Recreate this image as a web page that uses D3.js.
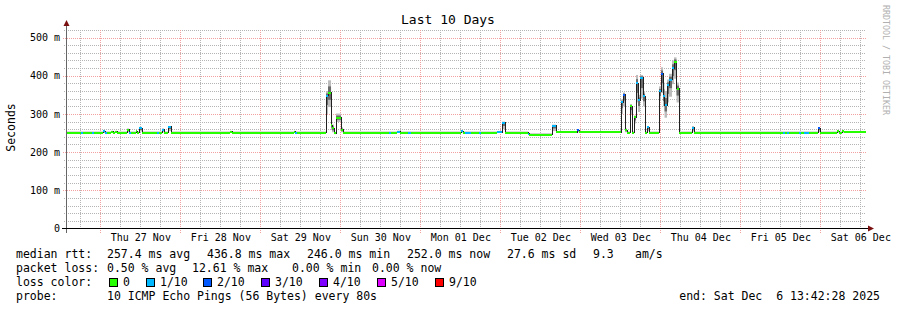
<!DOCTYPE html>
<html>
<head>
<meta charset="utf-8">
<title>Last 10 Days</title>
<style>
    body { margin: 0; background: #fff; }
    svg { display: block; font-family: "DejaVu Sans Mono", monospace; }
</style>
</head>
<body>
<div id="chart"></div>
<script src="https://cdn.jsdelivr.net/npm/d3@7/dist/d3.min.js"></script>
<script>
    // step starts (UTC), each value holds until the next one
    var stepTimes = [
        "2025-11-26T13:42","2025-11-26T18:13","2025-11-26T18:49","2025-11-26T21:31","2025-11-26T22:07",
        "2025-11-27T00:49","2025-11-27T01:25","2025-11-27T02:01","2025-11-27T03:13","2025-11-27T03:49",
        "2025-11-27T04:25","2025-11-27T05:01","2025-11-27T08:01","2025-11-27T08:37","2025-11-27T09:13",
        "2025-11-27T10:43","2025-11-27T11:01","2025-11-27T11:37","2025-11-27T12:31","2025-11-27T17:01",
        "2025-11-27T17:37","2025-11-27T18:31","2025-11-27T19:07","2025-11-27T20:19","2025-11-27T21:13",
        "2025-11-28T14:55","2025-11-28T15:31","2025-11-29T10:07","2025-11-29T10:25","2025-11-29T11:01",
        "2025-11-29T19:43","2025-11-29T20:19","2025-11-29T21:13","2025-11-29T21:31","2025-11-29T22:07",
        "2025-11-29T22:43","2025-11-30T00:13","2025-11-30T00:49","2025-11-30T14:37","2025-11-30T15:13",
        "2025-11-30T17:01","2025-11-30T17:55","2025-11-30T20:19","2025-11-30T21:13","2025-12-01T12:13",
        "2025-12-01T12:49","2025-12-01T13:25","2025-12-01T15:13","2025-12-01T17:37","2025-12-01T18:13",
        "2025-12-01T23:01","2025-12-02T00:31","2025-12-02T01:25","2025-12-02T08:19","2025-12-02T08:37",
        "2025-12-02T15:31","2025-12-02T16:43","2025-12-02T23:01","2025-12-02T23:37","2025-12-03T12:13",
        "2025-12-03T12:49","2025-12-03T13:25","2025-12-03T14:01","2025-12-03T14:55","2025-12-03T15:31",
        "2025-12-03T16:07","2025-12-03T16:43","2025-12-03T17:19","2025-12-03T17:55","2025-12-03T18:49",
        "2025-12-03T19:25","2025-12-03T20:01","2025-12-03T20:37","2025-12-03T23:37","2025-12-04T00:13",
        "2025-12-04T00:49","2025-12-04T01:16","2025-12-04T02:01","2025-12-04T02:37","2025-12-04T03:31",
        "2025-12-04T04:07","2025-12-04T04:52","2025-12-04T05:37","2025-12-04T09:31","2025-12-04T10:07",
        "2025-12-05T12:49","2025-12-05T13:25","2025-12-05T14:01","2025-12-05T14:37","2025-12-05T17:37",
        "2025-12-05T18:13","2025-12-05T19:07","2025-12-05T20:37","2025-12-05T23:19","2025-12-05T23:55",
        "2025-12-06T05:01","2025-12-06T05:37","2025-12-06T06:31","2025-12-06T07:07"
    ];

    // median rtt in ms
    var medianMs = [
        251,251,251,251,251, 254,251,251,253,251, 253,251,258,251,251, 254,251,262,251,251,
        251,259,251,266,251, 253,251,253,251,251, 347,356,270,262,249, 290,258,251,251,251,
        253,251,251,251,254, 251,251,251,251,251, 252,277,251,248,246, 269,252,257,252,330,
        350,257,251,320,251, 291,380,336,395,346, 251,265,251,359,405, 347,323,375,390,420,
        437,366,251,264,251, 251,251,251,251,251, 251,251,251,262,251, 254,251,254,252
    ];

    // lost pings out of 10
    var lossOf10 = [
        0,1,0,1,0, 1,1,0,0,0, 0,0,0,1,0, 0,0,1,0,1,
        0,1,0,1,0, 0,0,0,1,0, 1,0,0,0,0, 0,0,0,1,0,
        1,0,1,0,1, 0,1,0,1,0, 1,1,0,1,0, 1,0,2,0,1,
        2,0,0,0,0, 0,1,1,1,1, 0,1,0,1,2, 1,1,1,1,1,
        0,0,0,1,0, 1,0,1,0,1, 0,1,0,2,0, 0,0,0,0
    ];

    // smoke: lowest and highest ping of each step, ms
    var smokeLowMs = [
        249,249,249,249,249, 250,249,249,250,249, 250,249,252,249,249, 251,249,254,249,249,
        249,252,249,255,249, 250,249,250,249,249, 300,318,258,252,247, 279,252,249,249,249,
        250,249,249,249,251, 249,249,249,249,249, 250,260,249,246,244, 255,250,252,250,300,
        320,252,249,300,249, 275,330,305,340,320, 249,255,249,335,355, 320,290,330,345,378,
        392,330,249,254,249, 249,249,249,249,249, 249,249,249,253,249, 251,249,251,250
    ];
    var smokeHighMs = [
        254,254,254,254,254, 258,254,254,256,254, 256,254,262,254,254, 257,254,266,254,254,
        254,262,254,268,254, 256,254,256,254,254, 360,388,300,272,253, 301,265,254,254,254,
        256,254,254,254,257, 254,254,254,254,254, 255,280,254,251,249, 272,255,260,255,338,
        356,262,254,326,254, 296,402,350,402,360, 254,268,254,372,422, 382,360,390,405,440,
        448,382,254,268,254, 254,254,254,254,254, 254,254,254,265,254, 257,254,257,255
    ];

    var lossLevels = [0, 1, 2, 3, 4, 5, 9];
    var lossLabels = ["0", "1/10", "2/10", "3/10", "4/10", "5/10", "9/10"];
    var lossColors = ["#26ff00", "#00b8ff", "#0059ff", "#5e00ff", "#7e00ff", "#dd00ff", "#ff0000"];

    var yTickValues = [0, 100, 200, 300, 400, 500];

    var W = 897, H = 310;
    var plotLeft = 66, plotRight = 866, plotTop = 28.5, plotBottom = 228.5;
    var yMax = 523.6;

    var parse = d3.utcParse("%Y-%m-%dT%H:%M");
    var endTime = new Date(Date.UTC(2025, 11, 6, 13, 42, 28));
    var startTime = d3.utcDay.offset(endTime, -10);

    var x = d3.scaleUtc().domain([startTime, endTime]).range([plotLeft, plotRight]).clamp(true);
    var y = d3.scaleLinear().domain([0, yMax]).range([plotBottom, plotTop]);

    function lossColor(n) {
        for (var i = 0; i < lossLevels.length; i++) {
            if (n <= lossLevels[i]) return lossColors[i];
        }
        return lossColors[lossColors.length - 1];
    }

    var steps = stepTimes.map(function(t, i) {
        return {
            t0: parse(t),
            t1: i < stepTimes.length - 1 ? parse(stepTimes[i + 1]) : endTime,
            med: medianMs[i],
            loss: lossOf10[i],
            lo: smokeLowMs[i],
            hi: smokeHighMs[i]
        };
    });

    var svg = d3.select("#chart").append("svg")
            .attr("width", W)
            .attr("height", H);

    svg.append("rect").attr("width", W).attr("height", H).attr("fill", "#fff");

    // grid
    var grid = svg.append("g").attr("shape-rendering", "crispEdges");
    var dayTicks = x.ticks(d3.utcDay.every(1));
    var sixHour = x.ticks(d3.utcHour.every(6)).filter(function(d) { return d.getUTCHours() !== 0; });

    grid.selectAll("line.vmin").data(sixHour).enter().append("line")
            .attr("x1", function(d) { return Math.round(x(d)) + 0.5; })
            .attr("x2", function(d) { return Math.round(x(d)) + 0.5; })
            .attr("y1", plotBottom).attr("y2", plotTop)
            .attr("stroke", "#b4b4b4").attr("stroke-dasharray", "1,1");

    var hMinor = d3.range(20, 521, 20).filter(function(v) { return v % 100 !== 0; });
    grid.selectAll("line.hmin").data(hMinor).enter().append("line")
            .attr("x1", plotLeft - 2).attr("x2", plotRight)
            .attr("y1", function(v) { return Math.round(y(v)) + 0.5; })
            .attr("y2", function(v) { return Math.round(y(v)) + 0.5; })
            .attr("stroke", "#b4b4b4").attr("stroke-dasharray", "1,1");

    grid.selectAll("line.vmaj").data(dayTicks).enter().append("line")
            .attr("x1", function(d) { return Math.round(x(d)) + 0.5; })
            .attr("x2", function(d) { return Math.round(x(d)) + 0.5; })
            .attr("y1", plotBottom + 4).attr("y2", plotTop)
            .attr("stroke", "#f2a0a0").attr("stroke-dasharray", "1,1");

    grid.selectAll("line.hmaj").data(yTickValues.slice(1)).enter().append("line")
            .attr("x1", plotLeft - 3).attr("x2", plotRight)
            .attr("y1", function(v) { return Math.round(y(v)) + 0.5; })
            .attr("y2", function(v) { return Math.round(y(v)) + 0.5; })
            .attr("stroke", "#f2a0a0").attr("stroke-dasharray", "1,1");

    // smoke
    var smoke = svg.append("g");
    smoke.selectAll("rect.outer").data(steps).enter().append("rect")
            .attr("x", function(d) { return x(d.t0); })
            .attr("width", function(d) { return x(d.t1) - x(d.t0); })
            .attr("y", function(d) { return y(d.hi); })
            .attr("height", function(d) { return y(d.lo) - y(d.hi); })
            .attr("fill", "#bcbcbc");
    smoke.selectAll("rect.inner").data(steps).enter().append("rect")
            .attr("x", function(d) { return x(d.t0); })
            .attr("width", function(d) { return x(d.t1) - x(d.t0); })
            .attr("y", function(d) { return y(d.med + (d.hi - d.med) / 2); })
            .attr("height", function(d) { return y(d.med - (d.med - d.lo) / 2) - y(d.med + (d.hi - d.med) / 2); })
            .attr("fill", "#6a6a6a");

    // median line
    var linePts = steps.map(function(d) { return [d.t0, d.med]; });
    linePts.push([endTime, steps[steps.length - 1].med]);
    svg.append("path")
            .datum(linePts)
            .attr("fill", "none")
            .attr("stroke", "#202020")
            .attr("stroke-width", 1)
            .attr("shape-rendering", "crispEdges")
            .attr("d", d3.line()
                    .curve(d3.curveStepAfter)
                    .x(function(d) { return x(d[0]); })
                    .y(function(d) { return y(d[1]); }));

    // loss coloured median bars
    svg.append("g").attr("shape-rendering", "crispEdges")
            .selectAll("rect").data(steps).enter().append("rect")
            .attr("x", function(d) { return x(d.t0); })
            .attr("width", function(d) { return x(d.t1) - x(d.t0); })
            .attr("y", function(d) { return y(d.med) - 1; })
            .attr("height", 2)
            .attr("fill", function(d) { return lossColor(d.loss); });

    // axes
    var yAxis = svg.append("g")
            .attr("transform", "translate(" + plotLeft + ",0)")
            .call(d3.axisLeft(y)
                    .tickValues(yTickValues)
                    .tickSize(0)
                    .tickPadding(6)
                    .tickFormat(function(v) { return v === 0 ? "0" : v + " m"; }));
    yAxis.select(".domain").remove();
    yAxis.selectAll("text").attr("font-size", 10).attr("font-family", "DejaVu Sans Mono").attr("fill", "#000");

    var noons = dayTicks.map(function(d) { return d3.utcHour.offset(d, 12); })
            .filter(function(d) { return d < endTime; });
    var xAxis = svg.append("g")
            .attr("transform", "translate(0," + plotBottom + ")")
            .call(d3.axisBottom(x)
                    .tickValues(noons)
                    .tickSize(0)
                    .tickFormat(d3.utcFormat("%a %d %b")));
    xAxis.select(".domain").remove();
    xAxis.selectAll("text").attr("y", 12.5).attr("dy", 0)
            .attr("font-size", 10).attr("font-family", "DejaVu Sans Mono").attr("fill", "#000");

    var axes = svg.append("g").attr("shape-rendering", "crispEdges");
    axes.append("line")
            .attr("x1", plotLeft + 0.5).attr("x2", plotLeft + 0.5)
            .attr("y1", plotBottom + 4).attr("y2", 24)
            .attr("stroke", "#666");
    axes.append("line")
            .attr("x1", plotLeft - 4).attr("x2", plotRight + 3)
            .attr("y1", plotBottom).attr("y2", plotBottom)
            .attr("stroke", "#000");
    svg.append("path")
            .attr("d", "M63.5,26L66.5,20L69.5,26Z")
            .attr("fill", "#7a1010");
    svg.append("path")
            .attr("d", "M868,225.5L874,228.5L868,231.5Z")
            .attr("fill", "#7a1010");

    // titles
    svg.append("text")
            .attr("x", 448).attr("y", 23.5)
            .attr("text-anchor", "middle")
            .attr("font-size", 13)
            .text("Last 10 Days");

    svg.append("text")
            .attr("transform", "translate(15,127.5) rotate(-90)")
            .attr("text-anchor", "middle")
            .attr("font-size", 11.5)
            .text("Seconds");

    svg.append("text")
            .attr("transform", "translate(883,5) rotate(90)")
            .attr("font-size", 8.3)
            .attr("fill", "#b0b0b0")
            .text("RRDTOOL / TOBI OETIKER");

    // legend
    var legendRows = [
        { y: 258, parts: [[16, "median rtt:"], [107, "257.4 ms avg"], [207, "436.8 ms max"], [307, "246.0 ms min"],
                          [407, "252.0 ms now"], [507, "27.6 ms sd"], [593, "9.3"], [635, "am/s"]] },
        { y: 272, parts: [[16, "packet loss:"], [107, "0.50 % avg"], [192, "12.61 % max"], [292, "0.00 % min"],
                          [372, "0.00 % now"]] },
        { y: 286, parts: [[16, "loss color:"]] },
        { y: 300, parts: [[16, "probe:"], [107, "10 ICMP Echo Pings (56 Bytes) every 80s"]] }
    ];
    var legend = svg.append("g").attr("font-size", 11.5);
    legendRows.forEach(function(row) {
        legend.selectAll(null).data(row.parts).enter().append("text")
                .attr("x", function(p) { return p[0]; })
                .attr("y", row.y)
                .text(function(p) { return p[1]; });
    });

    var boxX = [109, 146, 203, 261, 319, 377, 435];
    var lossItems = legend.selectAll("g.item").data(lossLabels).enter().append("g");
    lossItems.append("rect")
            .attr("x", function(d, i) { return boxX[i] + 0.5; })
            .attr("y", 278.5)
            .attr("width", 8).attr("height", 8)
            .attr("fill", function(d, i) { return lossColors[i]; })
            .attr("stroke", "#000")
            .attr("shape-rendering", "crispEdges");
    lossItems.append("text")
            .attr("x", function(d, i) { return boxX[i] + 14; })
            .attr("y", 286)
            .text(function(d) { return d; });

    legend.append("text")
            .attr("x", 880).attr("y", 300)
            .attr("text-anchor", "end")
            .text("end: Sat Dec\u00a0\u00a06 13:42:28 2025");
</script>
</body>
</html>
